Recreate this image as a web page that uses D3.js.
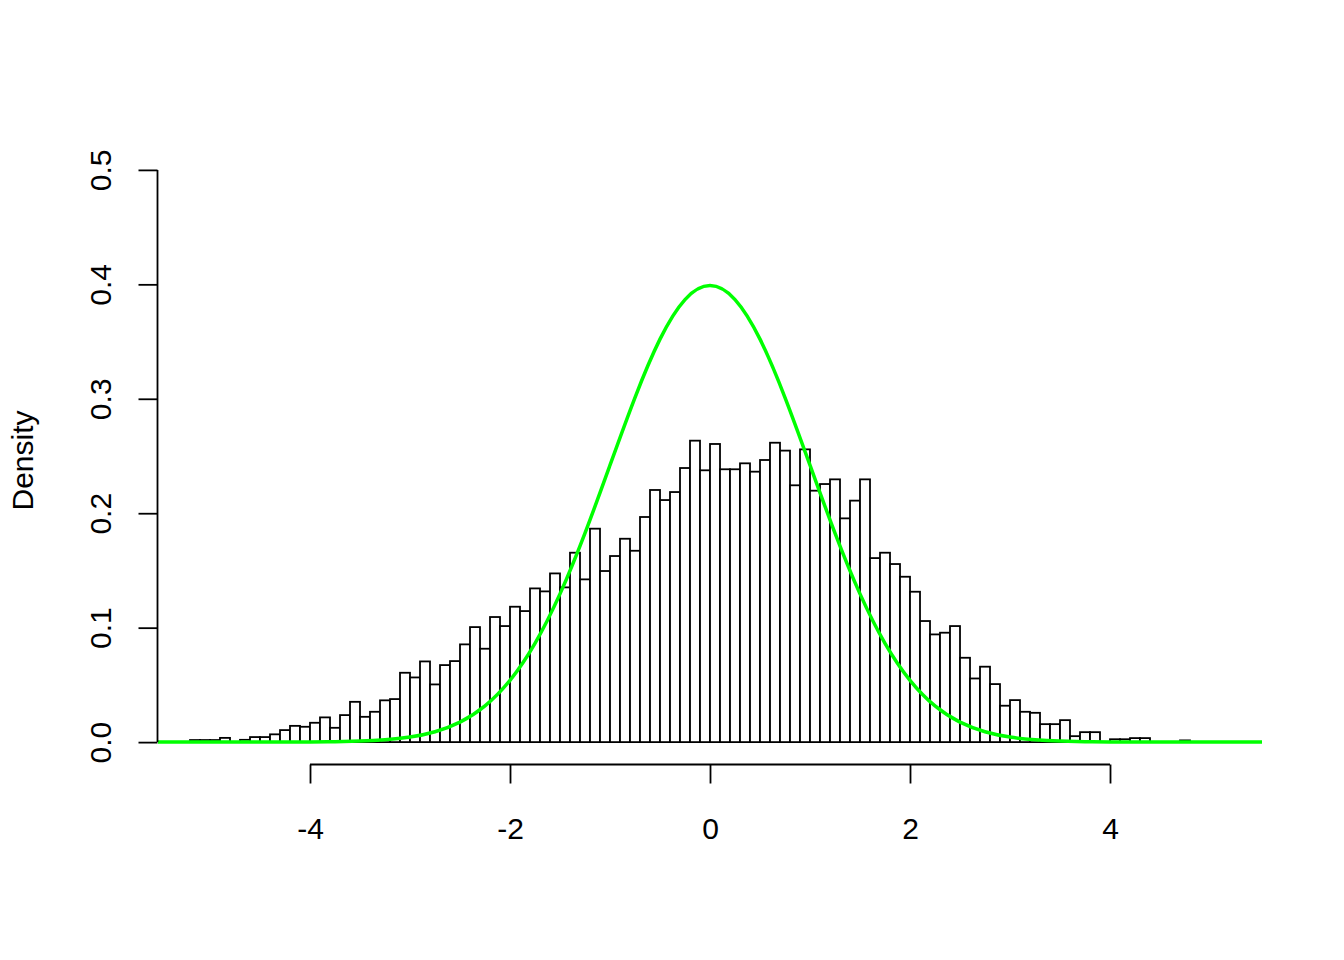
<!DOCTYPE html>
<html>
<head>
<meta charset="utf-8">
<script src="https://cdn.jsdelivr.net/npm/d3@7"></script>
<style>
  html, body { margin: 0; padding: 0; background: #fff; }
  svg text { font-family: "Liberation Sans", Arial, Helvetica, sans-serif; fill: #000; }
</style>
</head>
<body>
<svg id="chart" width="1344" height="960"></svg>
<script>
// Histogram bins (left edges, width 0.1) and densities
const binStarts = [
  -5.2, -5.1, -5.0, -4.9, -4.8, -4.7, -4.6, -4.5, -4.4, -4.3,
  -4.2, -4.1, -4.0, -3.9, -3.8, -3.7, -3.6, -3.5, -3.4, -3.3,
  -3.2, -3.1, -3.0, -2.9, -2.8, -2.7, -2.6, -2.5, -2.4, -2.3,
  -2.2, -2.1, -2.0, -1.9, -1.8, -1.7, -1.6, -1.5, -1.4, -1.3,
  -1.2, -1.1, -1.0, -0.9, -0.8, -0.7, -0.6, -0.5, -0.4, -0.3,
  -0.2, -0.1, 0.0, 0.1, 0.2, 0.3, 0.4, 0.5, 0.6, 0.7,
  0.8, 0.9, 1.0, 1.1, 1.2, 1.3, 1.4, 1.5, 1.6, 1.7,
  1.8, 1.9, 2.0, 2.1, 2.2, 2.3, 2.4, 2.5, 2.6, 2.7,
  2.8, 2.9, 3.0, 3.1, 3.2, 3.3, 3.4, 3.5, 3.6, 3.7,
  3.8, 3.9, 4.0, 4.1, 4.2, 4.3, 4.4, 4.5, 4.6, 4.7
];
const binWidth = 0.1;
const densities = [
  0.0018, 0.0018, 0.0018, 0.0037, 0.0000, 0.0020, 0.0044, 0.0044, 0.0068, 0.0105,
  0.0142, 0.0134, 0.0169, 0.0216, 0.0125, 0.0236, 0.0352, 0.0221, 0.0265, 0.0365,
  0.0376, 0.0606, 0.0565, 0.0705, 0.0504, 0.0673, 0.0708, 0.0854, 0.1005, 0.0816,
  0.1093, 0.1014, 0.1183, 0.1145, 0.1343, 0.1317, 0.1474, 0.1352, 0.1655, 0.1422,
  0.1865, 0.1495, 0.1626, 0.1777, 0.1672, 0.1967, 0.2203, 0.2115, 0.2185, 0.2395,
  0.2634, 0.2375, 0.2605, 0.2384, 0.2384, 0.2436, 0.2363, 0.2465, 0.2616, 0.2547,
  0.2244, 0.2558, 0.2197, 0.2255, 0.2296, 0.1955, 0.2110, 0.2296, 0.1608, 0.1655,
  0.1556, 0.1445, 0.1314, 0.1058, 0.0941, 0.0956, 0.1014, 0.0737, 0.0556, 0.0659,
  0.0507, 0.0318, 0.0367, 0.0265, 0.0256, 0.0157, 0.0157, 0.0192, 0.0052, 0.0087,
  0.0087, 0.0000, 0.0025, 0.0025, 0.0035, 0.0035, 0.0000, 0.0000, 0.0000, 0.0015
];

// Green reference curve (standard normal density) sampled points
const curveX = [
  -5.52, -5.25, -5.0, -4.75, -4.5, -4.25, -4.0, -3.75, -3.5, -3.25,
  -3.0, -2.75, -2.5, -2.25, -2.0, -1.75, -1.5, -1.25, -1.0, -0.75,
  -0.5, -0.25, 0.0, 0.25, 0.5, 0.75, 1.0, 1.25, 1.5, 1.75,
  2.0, 2.25, 2.5, 2.75, 3.0, 3.25, 3.5, 3.75, 4.0, 4.25,
  4.5, 4.75, 5.0, 5.25, 5.52
];
const curveY = [
  0.0000, 0.0000, 0.0000, 0.0000, 0.0000, 0.0000, 0.0001, 0.0004, 0.0009, 0.0020,
  0.0044, 0.0091, 0.0175, 0.0317, 0.0540, 0.0863, 0.1295, 0.1826, 0.2420, 0.3011,
  0.3521, 0.3867, 0.3989, 0.3867, 0.3521, 0.3011, 0.2420, 0.1826, 0.1295, 0.0863,
  0.0540, 0.0317, 0.0175, 0.0091, 0.0044, 0.0020, 0.0009, 0.0004, 0.0001, 0.0000,
  0.0000, 0.0000, 0.0000, 0.0000, 0.0000
];

const xTicks = [-4, -2, 0, 2, 4];
const yTicks = [0.0, 0.1, 0.2, 0.3, 0.4, 0.5];
const yLabel = "Density";

const svg = d3.select("#chart");
const fontSize = 30;
const lw = 1.8;

const x = d3.scaleLinear().domain([-5.52, 5.52]).range([158, 1262]);
const y = d3.scaleLinear().domain([-0.02, 0.52]).range([765, 147]);

// Bars
const bins = binStarts.map((s, i) => ({ x0: s, x1: s + binWidth, d: densities[i] }));
svg.append("g")
  .selectAll("rect")
  .data(bins)
  .join("rect")
  .attr("x", d => x(d.x0))
  .attr("width", d => x(d.x1) - x(d.x0))
  .attr("y", d => y(d.d))
  .attr("height", d => y(0) - y(d.d))
  .attr("fill", "#fff")
  .attr("stroke", "#000")
  .attr("stroke-width", lw);

// Green curve
const pts = curveX.map((v, i) => [v, curveY[i]]);
svg.append("path")
  .datum(pts)
  .attr("fill", "none")
  .attr("stroke", "#00ff00")
  .attr("stroke-width", 3.5)
  .attr("d", d3.line().x(d => x(d[0])).y(d => y(d[1])).curve(d3.curveNatural));

// X axis
const xAxis = svg.append("g")
  .attr("transform", "translate(0,764.5)")
  .call(d3.axisBottom(x).tickValues(xTicks).tickSize(19).tickFormat(d => String(d)));
xAxis.select(".domain").attr("d", `M${x(xTicks[0])},0H${x(xTicks[xTicks.length - 1])}`)
  .attr("stroke-width", lw);
xAxis.selectAll(".tick line").attr("stroke-width", lw);
xAxis.selectAll(".tick text")
  .attr("y", 74).attr("dy", null)
  .attr("font-size", fontSize)
  .style("font-family", '"Liberation Sans", Arial, sans-serif');

// Y axis
const yAxis = svg.append("g")
  .attr("transform", "translate(157.5,0)")
  .call(d3.axisLeft(y).tickValues(yTicks).tickSize(19).tickFormat(d3.format(".1f")));
yAxis.select(".domain").attr("d", `M0,${y(yTicks[0])}V${y(yTicks[yTicks.length - 1])}`)
  .attr("stroke-width", lw);
yAxis.selectAll(".tick line").attr("stroke-width", lw);
yAxis.selectAll(".tick text")
  .attr("x", null).attr("y", null).attr("dy", null)
  .attr("transform", "translate(-46.5,0) rotate(-90)")
  .attr("text-anchor", "middle")
  .attr("font-size", fontSize)
  .style("font-family", '"Liberation Sans", Arial, sans-serif');

// Y label
svg.append("text")
  .attr("transform", "translate(33,460.5) rotate(-90)")
  .attr("text-anchor", "middle")
  .attr("font-size", fontSize)
  .text(yLabel);
</script>
</body>
</html>
